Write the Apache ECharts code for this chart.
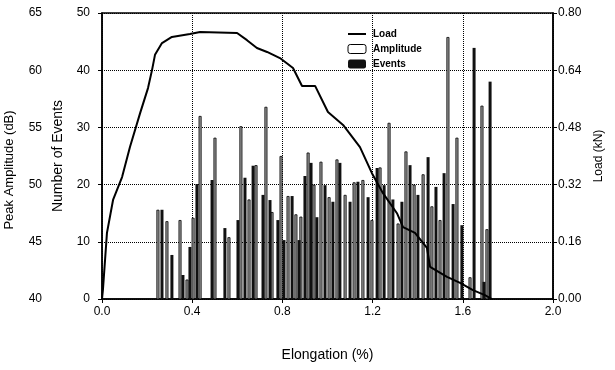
<!DOCTYPE html>
<html>
<head>
<meta charset="utf-8">
<script src="https://cdn.jsdelivr.net/npm/echarts@6/dist/echarts.min.js"></script>
<style>
html,body{margin:0;padding:0;background:#fff;}
#c{width:615px;height:370px;}
</style>
</head>
<body>
<div id="c"></div>
<script>
// Load curve: elongation (%) and load (kN)
var loadElong = [0, 0.004, 0.022, 0.049, 0.089, 0.124, 0.169, 0.204, 0.222, 0.235, 0.266, 0.310, 0.390, 0.435, 0.599, 0.643, 0.687, 0.732, 0.789, 0.847, 0.887, 0.945, 1.002, 1.069, 1.144, 1.197, 1.246, 1.308, 1.335, 1.388, 1.441, 1.455, 1.530, 1.588, 1.645, 1.698, 1.729];
var loadKN = [0, 0.025, 0.185, 0.277, 0.341, 0.425, 0.520, 0.590, 0.641, 0.683, 0.716, 0.733, 0.741, 0.747, 0.744, 0.724, 0.702, 0.691, 0.674, 0.646, 0.596, 0.596, 0.523, 0.487, 0.425, 0.352, 0.296, 0.240, 0.201, 0.185, 0.143, 0.090, 0.062, 0.045, 0.025, 0.011, 0.000];

// Number of events bars
var eventElong = [0.266, 0.310, 0.359, 0.390, 0.421, 0.488, 0.545, 0.603, 0.634, 0.670, 0.714, 0.745, 0.780, 0.807, 0.843, 0.874, 0.900, 0.927, 0.953, 0.989, 1.024, 1.055, 1.100, 1.135, 1.180, 1.220, 1.251, 1.290, 1.330, 1.366, 1.401, 1.446, 1.481, 1.517, 1.557, 1.596, 1.650, 1.694, 1.721];
var eventCount = [15.6, 7.7, 4.2, 9.1, 20.1, 20.8, 12.4, 13.8, 21.2, 23.3, 18.2, 17.3, 13.8, 10.3, 18.0, 10.3, 21.5, 23.8, 14.3, 19.9, 17.0, 23.8, 17.0, 20.5, 17.8, 22.9, 19.9, 17.4, 17.0, 23.4, 18.2, 24.8, 19.6, 22.0, 16.6, 12.9, 43.9, 3.0, 38.0];

// Peak amplitude bars (dB)
var ampElong = [0.248, 0.288, 0.346, 0.377, 0.404, 0.435, 0.501, 0.563, 0.616, 0.652, 0.683, 0.727, 0.754, 0.794, 0.825, 0.860, 0.882, 0.914, 0.940, 0.971, 1.007, 1.042, 1.078, 1.118, 1.157, 1.197, 1.233, 1.273, 1.313, 1.348, 1.384, 1.424, 1.463, 1.499, 1.534, 1.574, 1.632, 1.685, 1.707];
var ampDB = [47.8, 46.8, 46.9, 41.7, 47.1, 56.0, 54.1, 45.4, 55.1, 48.7, 51.7, 56.8, 47.6, 52.5, 49.0, 47.4, 47.2, 52.8, 50.0, 52.0, 48.9, 52.2, 49.1, 50.2, 50.4, 46.9, 51.5, 55.4, 46.6, 52.9, 50.0, 50.9, 48.1, 46.9, 62.9, 54.1, 41.9, 56.9, 46.1];

// Axis ticks
var elongTicks = [0, 0.4, 0.8, 1.2, 1.6, 2.0];
var ampRange = [40, 65, 5];
var eventRange = [0, 50, 10];
var loadRange = [0, 0.8, 0.16];

var FONT = 'Liberation Sans';
function pairs(a, b) { return a.map(function (v, i) { return [v, b[i]]; }); }

var chart = echarts.init(document.getElementById('c'), null, {renderer: 'canvas'});
chart.setOption({
  animation: false,
  backgroundColor: '#fff',
  textStyle: {fontFamily: FONT, color: '#000'},
  grid: {left: 102, right: 62, top: 13, bottom: 71, outerBoundsMode: 'none', containLabel: false,
         show: true, borderColor: '#000', borderWidth: 1.5, backgroundColor: 'transparent'},
  legend: {
    orient: 'vertical', left: 342, top: 24, itemWidth: 18, itemHeight: 9, itemGap: 5,
    textStyle: {fontFamily: FONT, fontSize: 10, fontWeight: 'bold', color: '#000', padding: [0, 0, 0, 2]},
    data: [{name: 'Load', itemStyle: {opacity: 0}},
           {name: 'Amplitude', itemStyle: {color: '#fff', borderColor: '#000', borderWidth: 1}},
           'Events']
  },
  xAxis: {
    type: 'value', min: elongTicks[0], max: elongTicks[elongTicks.length - 1], interval: elongTicks[1] - elongTicks[0],
    axisLine: {lineStyle: {color: '#000', width: 1.5}},
    axisTick: {inside: false, length: 4, lineStyle: {color: '#000'}},
    axisLabel: {color: '#000', fontSize: 12, fontFamily: FONT, margin: 7, formatter: function (v) { return v.toFixed(1); }},
    splitLine: {show: true, lineStyle: {color: '#000', type: 'dotted', width: 1}},
    name: 'Elongation (%)', nameLocation: 'middle', nameGap: 49,
    nameTextStyle: {fontSize: 14, fontFamily: FONT, color: '#000'}
  },
  yAxis: [
    {
      type: 'value', position: 'left', offset: 50, min: ampRange[0], max: ampRange[1], interval: ampRange[2],
      axisLine: {show: false}, axisTick: {show: false}, splitLine: {show: false},
      axisLabel: {color: '#000', fontSize: 12, fontFamily: FONT, margin: 10},
      name: 'Peak Amplitude (dB)', nameLocation: 'middle', nameRotate: 90, nameGap: 36,
      nameTextStyle: {fontSize: 13, fontFamily: FONT, color: '#000', padding: [0, 28, 0, 0]}
    },
    {
      type: 'value', position: 'left', offset: 0, min: eventRange[0], max: eventRange[1], interval: eventRange[2],
      axisLine: {show: true, lineStyle: {color: '#000', width: 1.5}},
      axisTick: {show: true, length: 4, lineStyle: {color: '#000'}},
      splitLine: {show: true, lineStyle: {color: '#000', type: 'dotted', width: 1}},
      axisLabel: {color: '#000', fontSize: 12, fontFamily: FONT, margin: 12},
      name: 'Number of Events', nameLocation: 'middle', nameRotate: 90, nameGap: 37,
      nameTextStyle: {fontSize: 14, fontFamily: FONT, color: '#000'}
    },
    {
      type: 'value', position: 'right', min: loadRange[0], max: loadRange[1], interval: loadRange[2],
      axisLine: {show: true, lineStyle: {color: '#000', width: 1.5}},
      axisTick: {show: true, length: 4, lineStyle: {color: '#000'}},
      splitLine: {show: false},
      axisLabel: {color: '#000', fontSize: 12, fontFamily: FONT, margin: 5, formatter: function (v) { return v.toFixed(2); }},
      name: 'Load (kN)', nameLocation: 'middle', nameRotate: 90, nameGap: 35,
      nameTextStyle: {fontSize: 12, fontFamily: FONT, color: '#000'}
    }
  ],
  series: [
    {
      name: 'Amplitude', type: 'bar', xAxisIndex: 0, yAxisIndex: 0, clip: true,
      barWidth: 3, barGap: '-100%',
      itemStyle: {color: '#9a9a9a', borderColor: '#000', borderWidth: 0.8},
      data: pairs(ampElong, ampDB)
    },
    {
      name: 'Events', type: 'bar', xAxisIndex: 0, yAxisIndex: 1, clip: true,
      barWidth: 3, barGap: '-100%',
      itemStyle: {color: '#111'},
      data: pairs(eventElong, eventCount)
    },
    {
      name: 'Load', type: 'line', xAxisIndex: 0, yAxisIndex: 2, symbol: 'none', smooth: false, z: 5,
      lineStyle: {color: '#000', width: 2}, itemStyle: {color: '#000'},
      data: pairs(loadElong, loadKN)
    }
  ]
});
</script>
</body>
</html>
